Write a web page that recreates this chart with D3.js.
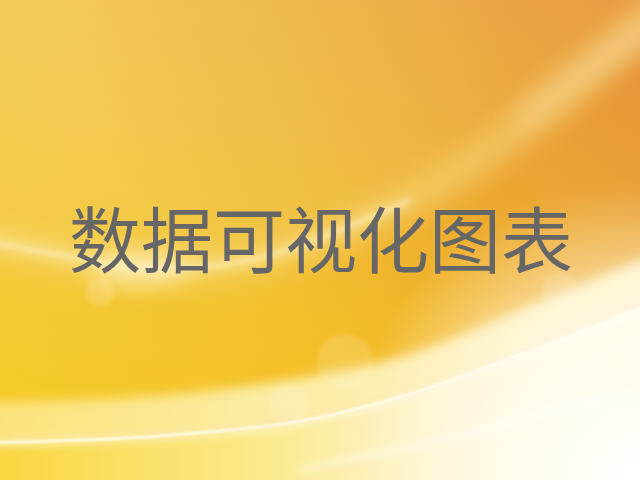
<!DOCTYPE html>
<html><head><meta charset="utf-8">
<script src="https://cdn.jsdelivr.net/npm/d3@7"></script>
<style>html,body{margin:0;padding:0;overflow:hidden;background:#f2c030}</style>
</head><body>
<script>
const titleChars = ["数","据","可","视","化","图","表"];
const titleText = titleChars.join("");

const W = 640, H = 480;
const svg = d3.select("body").append("svg").attr("width", W).attr("height", H);
const defs = svg.append("defs");

function lin(id, x1, y1, x2, y2, stops) {
  const g = defs.append("linearGradient").attr("id", id)
    .attr("x1", x1).attr("y1", y1).attr("x2", x2).attr("y2", y2);
  stops.forEach(s => g.append("stop").attr("offset", s[0]).attr("stop-color", s[1]).attr("stop-opacity", s[2] ?? 1));
}
function rad(id, cx, cy, r, stops) {
  const g = defs.append("radialGradient").attr("id", id).attr("gradientUnits", "userSpaceOnUse")
    .attr("cx", cx).attr("cy", cy).attr("r", r);
  stops.forEach(s => g.append("stop").attr("offset", s[0]).attr("stop-color", s[1]).attr("stop-opacity", s[2] ?? 1));
}
function blur(id, sd) {
  defs.append("filter").attr("id", id).attr("x", "-50%").attr("y", "-50%").attr("width", "200%").attr("height", "200%")
    .append("feGaussianBlur").attr("stdDeviation", sd);
}
blur("b1", 1); blur("b2", 2); blur("b4", 4); blur("b6", 6); blur("b12", 12);

lin("base", "0", "1", "1", "0", [[0, "#f8ca18"], [0.4, "#f3bd24"], [0.75, "#eba334"], [1, "#e6913c"]]);
rad("tl", 0, 0, 520, [[0, "#f4dc80", 0.55], [1, "#f4dc80", 0]]);
rad("br", 640, 480, 300, [[0, "#ffffff", 1], [0.5, "#fffbea", 0.8], [1, "#fff6d0", 0]]);
lin("band", "0", "0", "1", "0", [[0, "#fce580", 0.92], [0.45, "#fdf0b0", 0.92], [1, "#fff6d4", 0.95]]);
lin("below", "0", "0", "1", "0", [[0, "#f9d63c", 1], [0.4, "#fbe888", 1], [0.7, "#fff6d8", 1], [1, "#fffcf0", 1]]);

svg.append("rect").attr("width", W).attr("height", H).attr("fill", "url(#base)");
svg.append("rect").attr("width", W).attr("height", H).attr("fill", "url(#tl)");

const line = d3.line().curve(d3.curveCatmullRom.alpha(0.5));

// upper light streak
const c1 = [[-20, 240], [60, 255], [140, 268], [260, 258], [410, 200], [520, 130], [600, 65], [660, 10]];
svg.append("path").attr("d", line(c1.concat([[660, -20], [-20, -20]])))
  .attr("fill", "#f6d870").attr("opacity", 0.18).attr("filter", "url(#b12)");
svg.append("path").attr("d", line(c1)).attr("fill", "none")
  .attr("stroke", "#f7dc80").attr("stroke-width", 34).attr("opacity", 0.5).attr("filter", "url(#b12)");
svg.append("path").attr("d", line(c1.slice(0, 5))).attr("fill", "none")
  .attr("stroke", "#fff8d0").attr("stroke-width", 6).attr("opacity", 0.7).attr("filter", "url(#b6)");
svg.append("path").attr("d", line(c1.slice(0, 5))).attr("fill", "none")
  .attr("stroke", "#ffffff").attr("stroke-width", 1.5).attr("opacity", 0.6).attr("filter", "url(#b2)");
svg.append("ellipse").attr("cx", 140).attr("cy", 268).attr("rx", 50).attr("ry", 16)
  .attr("fill", "#fffbe0").attr("opacity", 0.55).attr("filter", "url(#b12)");
svg.append("path").attr("d", line([[520, 120], [600, 60], [660, 20]])).attr("fill", "none")
  .attr("stroke", "#f6d49a").attr("stroke-width", 20).attr("opacity", 0.6).attr("filter", "url(#b12)");

// lower pale band: upper edge c2, lower edge (bright line) c3
const c2 = [[-20, 402], [120, 398], [260, 384], [400, 357], [520, 310], [660, 252]];
const c3 = [[-20, 443], [160, 436], [300, 421], [400, 397], [533, 350], [660, 300]];
const upperPath = line(c2);
const lowerRev = line(c3.slice().reverse());
svg.append("path").attr("d", upperPath + "L" + lowerRev.slice(1) + "Z")
  .attr("fill", "url(#band)").attr("filter", "url(#b6)");
svg.append("path").attr("d", line(c3) + `L660,${H + 20}L-20,${H + 20}Z`)
  .attr("fill", "url(#below)").attr("filter", "url(#b2)");
svg.append("rect").attr("width", W).attr("height", H).attr("fill", "url(#br)");
svg.append("path").attr("d", line([[300, 470], [420, 445], [540, 415], [660, 385]])).attr("fill", "none")
  .attr("stroke", "#ffffff").attr("stroke-width", 4).attr("opacity", 0.7).attr("filter", "url(#b4)");
svg.append("path").attr("d", line(c3)).attr("fill", "none")
  .attr("stroke", "#ffffff").attr("stroke-width", 8).attr("opacity", 0.55).attr("filter", "url(#b4)");
svg.append("path").attr("d", line(c3)).attr("fill", "none")
  .attr("stroke", "#fffef4").attr("stroke-width", 2.5).attr("opacity", 0.95).attr("filter", "url(#b1)");

// bokeh
[[345, 362, 28], [290, 405, 20], [540, 330, 22], [470, 400, 30], [100, 292, 14], [620, 380, 26], [560, 290, 18]].forEach(d => {
  svg.append("circle").attr("cx", d[0]).attr("cy", d[1]).attr("r", d[2])
    .attr("fill", "#fff8e0").attr("opacity", 0.18).attr("filter", "url(#b2)");
});

// title
svg.append("text").attr("x", 321).attr("y", 267)
  .attr("text-anchor", "middle")
  .attr("font-family", "'Noto Sans CJK SC', sans-serif")
  .attr("font-size", 72)
  .attr("fill", "#666666")
  .text(titleText);
</script>
</body></html>
